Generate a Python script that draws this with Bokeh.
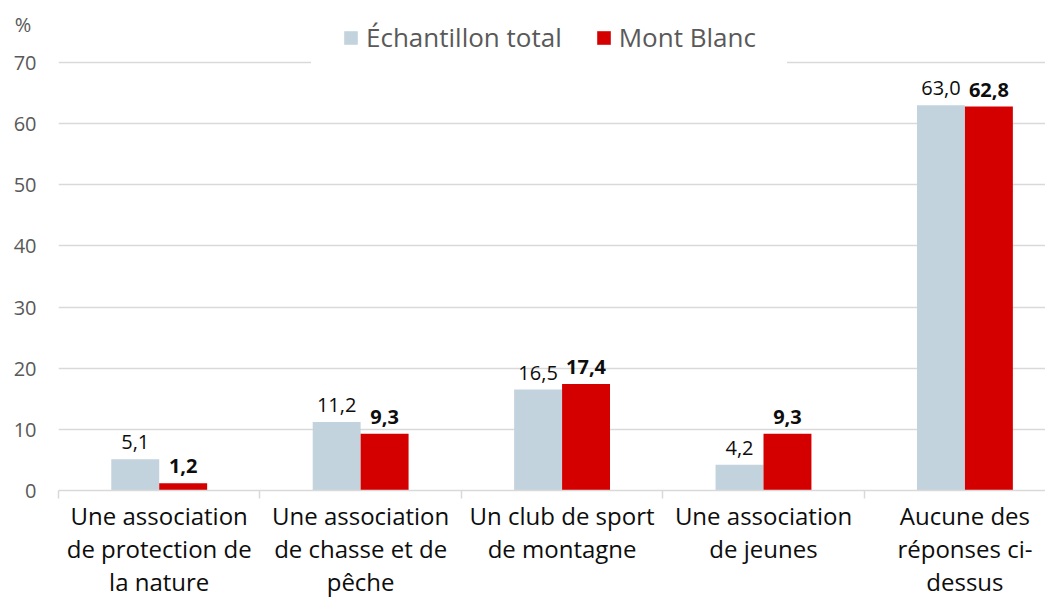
from bokeh.plotting import figure
from bokeh.models import (ColumnDataSource, Range1d, FixedTicker, Legend, LegendItem)
from bokeh.core.properties import value
from bokeh.embed import file_html
from bokeh.resources import INLINE

categories = [
    "Une association\nde protection de\nla nature",
    "Une association\nde chasse et de\npêche",
    "Un club de sport\nde montagne",
    "Une association\nde jeunes",
    "Aucune des\nréponses ci-\ndessus",
]
total = [5.1, 11.2, 16.5, 4.2, 63.0]
mont_blanc = [1.2, 9.3, 17.4, 9.3, 62.8]
series_names = ["Échantillon total", "Mont Blanc"]
y_ticks = [0, 10, 20, 30, 40, 50, 60, 70]
unit_label = "%"
unit_label_pos = 76.2

BLUE = "#C3D3DE"
RED = "#D40000"
FONT = "Open Sans"
BAR_W = 0.238

def fmt(v):
    return f"{v:.1f}".replace(".", ",")

n = len(categories)
centers = [i + 0.5 for i in range(n)]
src_t = ColumnDataSource(dict(x=[c - BAR_W / 2 for c in centers], top=total,
                              lab=[fmt(v) for v in total]))
src_m = ColumnDataSource(dict(x=[c + BAR_W / 2 for c in centers], top=mont_blanc,
                              lab=[fmt(v) for v in mont_blanc]))

p = figure(width=1045, height=600, output_backend="svg", toolbar_location=None,
           x_range=Range1d(0, 4.90), y_range=Range1d(0, 80.14),
           min_border_left=58, min_border_right=0, min_border_top=0, min_border_bottom=110)
p.outline_line_color = None
p.background_fill_color = "white"
p.border_fill_color = "white"

r_t = p.vbar(x="x", top="top", width=BAR_W, bottom=0, source=src_t,
             fill_color=BLUE, line_color=None)
r_m = p.vbar(x="x", top="top", width=BAR_W, bottom=0, source=src_m,
             fill_color=RED, line_color=None)

p.text(x="x", y="top", text="lab", source=src_t, text_align="center",
       text_baseline="alphabetic", y_offset=-17, text_font=value(FONT),
       text_font_size="20px", text_color="#0D0D0D")
p.text(x="x", y="top", text="lab", source=src_m, text_align="center",
       text_baseline="alphabetic", y_offset=-17, text_font=value(FONT),
       text_font_size="20px", text_color="#0D0D0D", text_font_style="bold")

# y axis (with the unit label as an extra labelled position)
p.yaxis.ticker = FixedTicker(ticks=y_ticks + [unit_label_pos])
p.yaxis.major_label_overrides = {unit_label_pos: unit_label + "\u00a0"}
p.yaxis.axis_line_color = None
p.yaxis.major_tick_line_color = None
p.yaxis.minor_tick_line_color = None
p.yaxis.major_tick_out = 0
p.yaxis.major_label_text_font = FONT
p.yaxis.major_label_text_font_size = "20px"
p.yaxis.major_label_text_color = "#595959"
p.yaxis.major_label_standoff = 22
p.ygrid.ticker = FixedTicker(ticks=y_ticks)
p.ygrid.grid_line_color = "#D9D9D9"
p.ygrid.grid_line_width = 1.3
p.xgrid.grid_line_color = None

# x axis
p.xaxis.ticker = FixedTicker(ticks=centers, minor_ticks=list(range(n + 1)))
p.xaxis.major_label_overrides = {c: lab for c, lab in zip(centers, categories)}
p.xaxis.major_tick_line_color = None
p.xaxis.major_tick_out = 0
p.xaxis.major_tick_in = 0
p.xaxis.minor_tick_line_color = "#D9D9D9"
p.xaxis.minor_tick_line_width = 1.5
p.xaxis.minor_tick_out = 8
p.xaxis.minor_tick_in = 0
p.xaxis.axis_line_color = "#D9D9D9"
p.xaxis.axis_line_width = 1.5
p.xaxis.major_label_text_font = FONT
p.xaxis.major_label_text_font_size = "24px"
p.xaxis.major_label_text_color = "#0D0D0D"
p.xaxis.major_label_text_line_height = 1.0
p.xaxis.major_label_standoff = 0

legend = Legend(items=[LegendItem(label=series_names[0], renderers=[r_t]),
                       LegendItem(label=series_names[1], renderers=[r_m])],
                orientation="horizontal", location=(253, 404),
                glyph_width=17, glyph_height=17, label_height=24,
                label_standoff=7, spacing=33, padding=30, margin=0,
                label_text_font=FONT, label_text_font_size="26px",
                label_text_color="#595959", border_line_color="white",
                border_line_alpha=1.0,
                background_fill_color="white", background_fill_alpha=1.0)
p.add_layout(legend, "center")

open("out.html", "w").write(file_html(p, INLINE))
